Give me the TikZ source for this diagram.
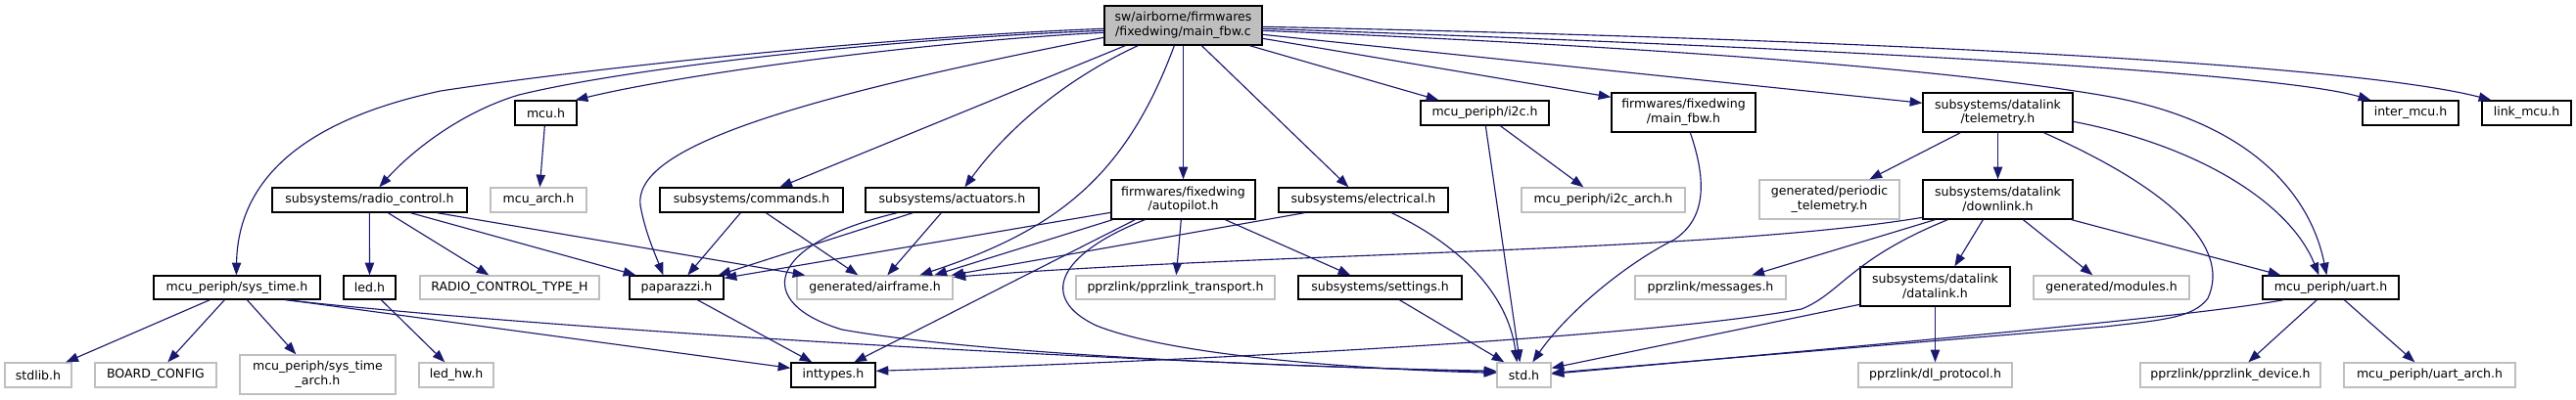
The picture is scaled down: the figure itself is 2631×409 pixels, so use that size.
\documentclass[tikz,border=0pt]{standalone}
\usepackage{fontspec}
\setmainfont{DejaVu Sans}
\usetikzlibrary{arrows.meta,calc}
\definecolor{edgec}{HTML}{191970}
\definecolor{grayb}{HTML}{BFBFBF}
\newcommand\mkbox[7]{\node[#6, minimum width={0.75pt*(#4-#2)}, minimum height={0.75pt*(#5-#3)}] (#1) at ({(#2+#4)/2},{(#3+#5)/2}) {#7};}
\tikzset{
  box/.style={draw=black, line width=1pt, fill=white, inner sep=0pt, align=center, font=\fontsize{9.4}{11}\selectfont},
  gbox/.style={box, draw=grayb},
  mbox/.style={box, fill=grayb},
  dep/.style={draw=edgec, line width=0.85pt, -{Triangle[length=9.5pt,width=7pt]}}
}
\begin{document}
\begin{tikzpicture}[x=0.75pt,y=-0.75pt]
\fill[white] (0,0) rectangle (2631,409);
\useasboundingbox (0,0) rectangle (2631,409);
\mkbox{main}{1128}{6}{1289}{46}{mbox}{sw/airborne/firmwares\\/fixedwing/main\_fbw.c}
\mkbox{radio}{278}{192}{477}{217}{box}{subsystems/radio\_control.h}
\mkbox{sysT}{157}{282}{327}{306}{box}{mcu\_periph/sys\_time.h}
\mkbox{led}{351}{282}{404}{306}{box}{led.h}
\mkbox{rct}{429}{282}{612}{306}{gbox}{RADIO\_CONTROL\_TYPE\_H}
\mkbox{stdlib}{5}{371}{73}{396}{gbox}{stdlib.h}
\mkbox{board}{97}{371}{221}{396}{gbox}{BOARD\_CONFIG}
\mkbox{sysTA}{245}{363}{404}{403}{gbox}{mcu\_periph/sys\_time\\\_arch.h}
\mkbox{ledhw}{428}{371}{504}{396}{gbox}{led\_hw.h}
\mkbox{mcu}{526}{103}{589}{128}{box}{mcu.h}
\mkbox{mcuA}{501}{192}{599}{217}{gbox}{mcu\_arch.h}
\mkbox{cmds}{674}{192}{861}{217}{box}{subsystems/commands.h}
\mkbox{pap}{643}{282}{739}{306}{box}{paparazzi.h}
\mkbox{airf}{814}{282}{973}{306}{gbox}{generated/airframe.h}
\mkbox{intt}{808}{371}{894}{396}{box}{inttypes.h}
\mkbox{act}{884}{192}{1061}{217}{box}{subsystems/actuators.h}
\mkbox{autop}{1135}{184}{1282}{224}{box}{firmwares/fixedwing\\/autopilot.h}
\mkbox{ptrans}{1099}{282}{1302}{306}{gbox}{pprzlink/pprzlink\_transport.h}
\mkbox{i2c}{1451}{103}{1582}{128}{box}{mcu\_periph/i2c.h}
\mkbox{mfbwh}{1646}{95}{1793}{135}{box}{firmwares/fixedwing\\/main\_fbw.h}
\mkbox{elec}{1306}{192}{1479}{217}{box}{subsystems/electrical.h}
\mkbox{i2cA}{1554}{192}{1721}{217}{gbox}{mcu\_periph/i2c\_arch.h}
\mkbox{sett}{1326}{282}{1493}{306}{box}{subsystems/settings.h}
\mkbox{std}{1529}{371}{1584}{396}{gbox}{std.h}
\mkbox{msgs}{1670}{282}{1824}{306}{gbox}{pprzlink/messages.h}
\mkbox{telem}{1964}{95}{2117}{135}{box}{subsystems/datalink\\/telemetry.h}
\mkbox{ptel}{1797}{184}{1940}{224}{gbox}{generated/periodic\\\_telemetry.h}
\mkbox{down}{1964}{184}{2117}{224}{box}{subsystems/datalink\\/downlink.h}
\mkbox{dlink}{1900}{273}{2053}{313}{box}{subsystems/datalink\\/datalink.h}
\mkbox{mods}{2077}{282}{2236}{306}{gbox}{generated/modules.h}
\mkbox{dlp}{1898}{371}{2055}{396}{gbox}{pprzlink/dl\_protocol.h}
\mkbox{imcu}{2413}{103}{2511}{128}{box}{inter\_mcu.h}
\mkbox{lmcu}{2535}{103}{2626}{128}{box}{link\_mcu.h}
\mkbox{uart}{2311}{282}{2450}{306}{box}{mcu\_periph/uart.h}
\mkbox{pdev}{2186}{371}{2370}{396}{gbox}{pprzlink/pprzlink\_device.h}
\mkbox{uartA}{2394}{371}{2569}{396}{gbox}{mcu\_periph/uart\_arch.h}
% main
\draw[dep] ($(main.north west)+(0,24)$) .. controls (900,38) and (600,70) .. (450,93) .. controls (300,125) and (243,190) .. ($(sysT.north west)+(85,0)$);
\draw[dep] ($(main.north west)+(0,26)$) .. controls (900,40) and (640,70) .. (530,97) .. controls (470,115) and (420,155) .. ($(radio.north west)+(110,0)$);
\draw[dep] ($(main.north west)+(0,28)$) .. controls (950,42) and (700,75) .. ($(mcu.north east)+(-2,0)$);
\draw[dep] ($(main.north west)+(0,33)$) .. controls (760,110) and (640,160) .. (655,215) .. controls (660,240) and (670,262) .. ($(pap.north west)+(35,0)$);
\draw[dep] ($(main.south west)+(22,0)$) -- ($(cmds.north west)+(123,0)$);
\draw[dep] ($(main.south west)+(35,0)$) .. controls (1090,80) and (1030,130) .. ($(act.north west)+(102,0)$);
\draw[dep] ($(main.south west)+(72,0)$) .. controls (1150,180) and (1080,235) .. ($(airf.north west)+(126,0)$);
\draw[dep] (main.south) -- (autop.north);
\draw[dep] ($(main.south west)+(100,0)$) -- ($(elec.north west)+(72,0)$);
\draw[dep] ($(main.south west)+(149,0)$) -- ($(i2c.north west)+(19,0)$);
\draw[dep] ($(main.north east)+(0,34)$) -- ($(mfbwh.north west)+(0,5)$);
\draw[dep] ($(main.north east)+(0,30)$) -- ($(telem.north west)+(0,11)$);
\draw[dep] ($(main.north east)+(0,26)$) .. controls (1700,48) and (2000,72) .. (2150,98) .. controls (2300,124) and (2360,200) .. ($(uart.north west)+(66,0)$);
\draw[dep] ($(main.north east)+(0,24)$) .. controls (1900,50) and (2330,75) .. ($(imcu.north west)+(9,0)$);
\draw[dep] ($(main.north east)+(0,22)$) .. controls (1900,40) and (2400,65) .. ($(lmcu.north west)+(10,0)$);
% radio control, mcu
\draw[dep] ($(radio.south west)+(100,0)$) -- (led.north);
\draw[dep] ($(radio.south west)+(119,0)$) -- ($(rct.north west)+(71,0)$);
\draw[dep] ($(radio.south west)+(142,0)$) -- ($(pap.north west)+(7,0)$);
\draw[dep] ($(radio.south west)+(169,0)$) -- ($(airf.north west)+(9,0)$);
\draw[dep] ($(mcu.south west)+(31,0)$) -- ($(mcuA.north west)+(51,0)$);
% sys_time, led
\draw[dep] ($(sysT.south west)+(58,0)$) -- ($(stdlib.north west)+(63,0)$);
\draw[dep] ($(sysT.south west)+(73,0)$) -- ($(board.north west)+(75,0)$);
\draw[dep] ($(sysT.south west)+(96,0)$) -- ($(sysTA.north west)+(58,0)$);
\draw[dep] ($(sysT.south west)+(135,0)$) .. controls (500,330) and (1000,365) .. ($(std.north west)+(0,10)$);
\draw[dep] ($(sysT.south west)+(137,0)$) -- ($(intt.north west)+(0,6)$);
\draw[dep] ($(led.south west)+(39,0)$) -- ($(ledhw.north west)+(27,0)$);
% commands, paparazzi
\draw[dep] ($(cmds.south west)+(83,0)$) -- ($(pap.north west)+(60,0)$);
\draw[dep] ($(cmds.south west)+(109,0)$) -- ($(airf.north west)+(63,0)$);
\draw[dep] ($(pap.south west)+(70,0)$) -- ($(intt.north west)+(22,0)$);
% actuators
\draw[dep] ($(act.south west)+(49,0)$) -- ($(pap.north east)+(-6,0)$);
\draw[dep] ($(act.south west)+(33,0)$) .. controls (780,250) and (770,310) .. (860,337) .. controls (1000,362) and (1300,375) .. ($(std.north west)+(0,9)$);
\draw[dep] ($(act.south west)+(78,0)$) -- ($(airf.north west)+(93,0)$);
% autopilot
\draw[dep] ($(autop.north west)+(0,34)$) -- ($(pap.north east)+(0,3)$);
\draw[dep] ($(autop.south west)+(2,0)$) -- ($(airf.north west)+(141,0)$);
\draw[dep] ($(autop.south west)+(25,0)$) -- ($(intt.north west)+(65,0)$);
\draw[dep] ($(autop.south west)+(35,0)$) .. controls (1080,260) and (1060,305) .. (1120,333) .. controls (1200,365) and (1400,378) .. ($(std.north west)+(0,11)$);
\draw[dep] ($(autop.south west)+(72,0)$) -- ($(ptrans.north west)+(103,0)$);
\draw[dep] ($(autop.south west)+(117,0)$) -- ($(sett.north west)+(54,0)$);
% electrical
\draw[dep] ($(elec.south west)+(27,0)$) -- ($(airf.north east)+(-2,0)$);
\draw[dep] ($(elec.south west)+(116,0)$) .. controls (1490,250) and (1540,300) .. ($(std.north west)+(21,0)$);
% i2c
\draw[dep] ($(i2c.south west)+(67,0)$) -- ($(std.north west)+(24,0)$);
\draw[dep] ($(i2c.south west)+(82,0)$) -- ($(i2cA.north west)+(64,0)$);
% main_fbw.h, settings
\draw[dep] ($(mfbwh.south west)+(81,0)$) .. controls (1745,190) and (1740,225) .. (1710,245) .. controls (1660,270) and (1600,320) .. ($(std.north west)+(37,0)$);
\draw[dep] ($(sett.south west)+(104,0)$) -- ($(std.north west)+(8,0)$);
% telemetry
\draw[dep] ($(telem.south west)+(39,0)$) -- ($(ptel.north west)+(113,0)$);
\draw[dep] (telem.south) -- (down.north);
\draw[dep] ($(telem.north east)+(0,30)$) .. controls (2250,150) and (2340,210) .. ($(uart.north west)+(58,0)$);
\draw[dep] ($(telem.south west)+(124,0)$) .. controls (2210,190) and (2280,250) .. (2255,305) .. controls (2240,325) and (2210,327) .. (2150,334) -- ($(std.north east)+(0,11)$);
% uart
\draw[dep] ($(uart.south west)+(22,0)$) .. controls (2250,322) and (2000,345) .. ($(std.north east)+(0,12)$);
\draw[dep] ($(uart.south west)+(56,0)$) -- ($(pdev.north west)+(111,0)$);
\draw[dep] ($(uart.south west)+(84,0)$) -- ($(uartA.north west)+(73,0)$);
% downlink
\draw[dep] ($(down.north west)+(0,39)$) .. controls (1750,258) and (1300,258) .. ($(airf.north east)+(0,2)$);
\draw[dep] ($(down.south west)+(13,0)$) -- ($(msgs.north west)+(120,0)$);
\draw[dep] ($(down.south west)+(26,0)$) .. controls (1890,265) and (1880,300) .. (1840,316) .. controls (1700,342) and (1300,366) .. ($(intt.north east)+(0,9)$);
\draw[dep] ($(down.south west)+(62,0)$) -- ($(dlink.north west)+(97,0)$);
\draw[dep] ($(down.south west)+(103,0)$) -- ($(mods.north west)+(61,0)$);
\draw[dep] ($(down.south east)+(-2,0)$) -- ($(uart.north west)+(19,0)$);
% datalink
\draw[dep] (dlink.south) -- (dlp.north);
\draw[dep] ($(dlink.north west)+(0,39)$) -- ($(std.north east)+(0,6)$);
\end{tikzpicture}
\end{document}
